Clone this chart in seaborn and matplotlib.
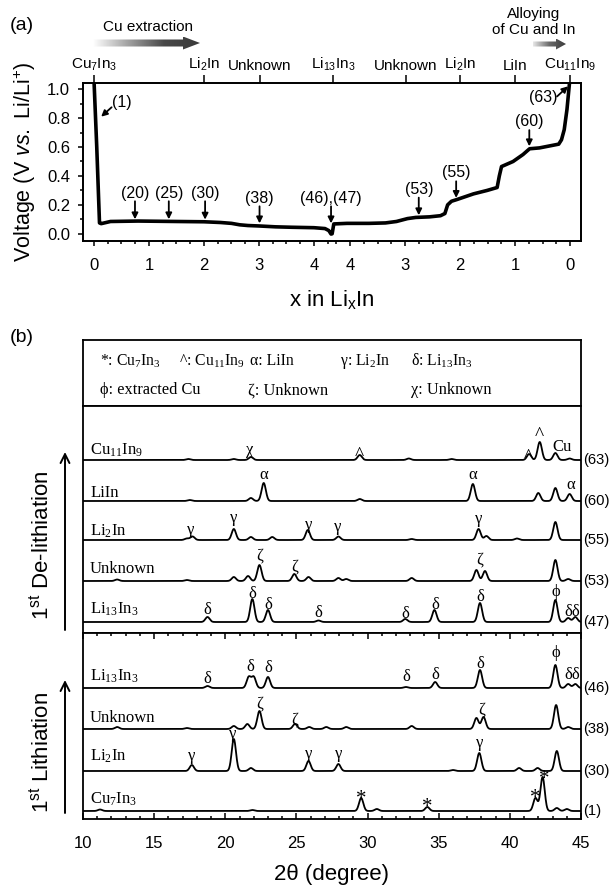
import numpy as np
import pandas as pd
import matplotlib
matplotlib.use("Agg")
import matplotlib.pyplot as plt
import seaborn as sns
from matplotlib.patches import FancyArrow
from matplotlib.colors import LinearSegmentedColormap
from matplotlib.ticker import MultipleLocator, FixedLocator

# ---------------- Panel (a): voltage profile ----------------
lith_x = [0.00, 0.05, 0.10, 0.13, 0.30, 0.80, 1.50, 2.00, 2.30, 2.50, 2.65, 2.80,
          3.00, 3.30, 3.60, 4.00, 4.20, 4.27, 4.31]
lith_V = [1.06, 0.60, 0.075, 0.070, 0.085, 0.088, 0.085, 0.083, 0.078, 0.072, 0.062, 0.057,
          0.054, 0.048, 0.045, 0.042, 0.036, 0.022, -0.002]
delith_x = [4.325, 4.295, 4.055, 3.655, 3.355, 3.155, 2.955, 2.805, 2.555, 2.355, 2.275,
            2.225, 2.155, 2.055, 1.755, 1.505, 1.325, 1.285, 1.245, 1.035, 0.855, 0.735,
            0.555, 0.205, 0.155, 0.105, 0.055, 0.005]
delith_V = [0.000, 0.068, 0.072, 0.072, 0.075, 0.085, 0.105, 0.113, 0.117, 0.125, 0.140,
            0.200, 0.225, 0.237, 0.276, 0.300, 0.320, 0.400, 0.465, 0.500, 0.548, 0.588,
            0.594, 0.620, 0.650, 0.720, 0.860, 1.060]
x_ticks = [0, 1, 2, 3, 4]
top_phase_labels = [r'Cu$_{\mathregular{7}}$In$_{\mathregular{3}}$', r'Li$_{\mathregular{2}}$In', 'Unknown',
                    r'Li$_{\mathregular{13}}$In$_{\mathregular{3}}$', 'Unknown',
                    r'Li$_{\mathregular{2}}$In', 'LiIn', r'Cu$_{\mathregular{11}}$In$_{\mathregular{9}}$']
top_phase_side = ['lith', 'lith', 'lith', 'lith', 'de', 'de', 'de', 'de']
top_phase_x = [0.0, 2.0, 3.02, 4.35, 2.99, 2.0, 1.0, 0.0]
# (label, branch, x, text V, arrow tail V, arrow tip V)
step_labels = [('(20)', 'lith', 0.745, 0.276, 0.225, 0.100),
               ('(25)', 'lith', 1.36, 0.276, 0.225, 0.100),
               ('(30)', 'lith', 2.02, 0.276, 0.225, 0.098),
               ('(38)', 'lith', 3.01, 0.244, 0.190, 0.072),
               ('(46),(47)', 'lith', 4.31, 0.244, 0.190, 0.072),
               ('(53)', 'de', 2.75, 0.306, 0.250, 0.128),
               ('(55)', 'de', 2.07, 0.425, 0.363, 0.248),
               ('(60)', 'de', 0.74, 0.780, 0.717, 0.605)]

# ---------------- Panel (b): XRD patterns, peaks (2theta, height) ----------------
delith_scans = ['(63)', '(60)', '(55)', '(53)', '(47)']
delith_phases = [r'Cu$_{\mathregular{11}}$In$_{\mathregular{9}}$', 'LiIn', r'Li$_{\mathregular{2}}$In',
                 'Unknown', r'Li$_{\mathregular{13}}$In$_{\mathregular{3}}$']
lith_scans = ['(46)', '(38)', '(30)', '(1)']
lith_phases = [r'Li$_{\mathregular{13}}$In$_{\mathregular{3}}$', 'Unknown', r'Li$_{\mathregular{2}}$In',
               r'Cu$_{\mathregular{7}}$In$_{\mathregular{3}}$']
peaks_63 = [(17.4, 1), (20.6, 1), (21.8, 3), (29.45, 5), (32.9, 1.5), (35.9, 1), (41.35, 6),
            (42.1, 18), (43.2, 7), (44.2, 1.5)]
peaks_60 = [(17.5, 1), (21.8, 3), (22.7, 18), (29.45, 2), (37.4, 17), (42.0, 8), (43.2, 13), (44.2, 7)]
peaks_55 = [(17.3, 1.5), (17.7, 3.5), (20.6, 11), (21.8, 3), (23.3, 3), (25.8, 10), (27.95, 3.5),
            (33.1, 1), (37.8, 11), (38.35, 4), (40.5, 1.5), (43.2, 18)]
peaks_53 = [(12.4, 1.5), (17.3, 1), (20.6, 4), (21.6, 5), (22.4, 16), (24.85, 7), (25.85, 4),
            (27.95, 3), (28.5, 2), (33.1, 3), (37.65, 11), (38.25, 10), (43.2, 21), (44.1, 2)]
peaks_47 = [(18.75, 5), (21.9, 23), (23.0, 12), (26.55, 1.5), (32.65, 3), (34.7, 12), (37.9, 19),
            (43.2, 22), (44.1, 4), (44.6, 5)]
peaks_46 = [(18.75, 2), (21.65, 11), (22.0, 11), (23.0, 11), (32.7, 1), (34.75, 6), (37.9, 18),
            (43.2, 23), (44.1, 4), (44.6, 4)]
peaks_38 = [(12.4, 2), (17.3, 1), (20.6, 3), (21.55, 5), (22.4, 18), (24.9, 5), (25.9, 2), (27.1, 2),
            (28.5, 2), (33.1, 3), (37.65, 11), (38.15, 12), (43.25, 24), (44.1, 2)]
peaks_30 = [(17.65, 6), (20.6, 32), (21.8, 3), (25.85, 10), (27.95, 7), (36.0, 1), (37.85, 18),
            (40.65, 3), (41.95, 3), (43.3, 20)]
peaks_1 = [(11.2, 1.5), (21.9, 1), (29.55, 13), (30.65, 2), (34.2, 4), (41.8, 13), (42.3, 34),
           (43.3, 3), (44.0, 2)]
# peak marks: (symbol, 2theta, height of mark above baseline)
marks_63 = [('χ', 21.75, 8), ('^', 29.45, 11), ('^', 41.3, 8), ('^', 42.05, 31), ('Cu', 43.65, 15)]
marks_60 = [('α', 22.7, 26), ('α', 37.4, 26), ('α', 44.3, 16)]
marks_55 = [('γ', 17.6, 8), ('γ', 20.6, 20), ('γ', 25.85, 13), ('γ', 27.9, 11), ('γ', 37.8, 19)]
marks_53 = [('ζ', 22.4, 26), ('ζ', 24.85, 15), ('ζ', 37.9, 22)]
marks_47 = [('δ', 18.75, 14), ('δ', 21.9, 30), ('δ', 23.0, 19), ('δ', 26.55, 11), ('δ', 32.65, 10),
            ('δ', 34.75, 19), ('δ', 37.95, 27), ('ϕ', 43.2, 30), ('δδ', 44.4, 12)]
marks_46 = [('δ', 18.75, 11), ('δ', 21.75, 23), ('δ', 23.0, 22), ('δ', 32.7, 13), ('δ', 34.75, 15),
            ('δ', 37.95, 26), ('ϕ', 43.25, 35), ('δδ', 44.4, 15)]
marks_38 = [('ζ', 22.4, 26), ('ζ', 24.9, 10), ('ζ', 38.05, 20)]
marks_30 = [('γ', 17.65, 13), ('γ', 20.55, 35), ('γ', 25.85, 15), ('γ', 27.95, 15), ('γ', 37.85, 26)]
marks_1 = [('*', 29.55, 18), ('*', 34.2, 10), ('*', 41.75, 19), ('*', 42.4, 38)]
legend_row1 = [('*', r'Cu$_{\mathregular{7}}$In$_{\mathregular{3}}$'), ('^', r'Cu$_{\mathregular{11}}$In$_{\mathregular{9}}$'),
               ('α', 'LiIn'), ('γ', r'Li$_{\mathregular{2}}$In'), ('δ', r'Li$_{\mathregular{13}}$In$_{\mathregular{3}}$')]
legend_row2 = [('ϕ', 'extracted Cu'), ('ζ', 'Unknown'), ('χ', 'Unknown')]

# ---------------- style ----------------
sns.set_theme(style='ticks', rc={'axes.edgecolor': 'black', 'xtick.color': 'black', 'ytick.color': 'black',
                                 'text.color': 'black', 'axes.labelcolor': 'black', 'axes.linewidth': 1.2})
plt.rcParams['font.family'] = ['Liberation Sans', 'DejaVu Sans']
plt.rcParams['mathtext.fontset'] = 'custom'
plt.rcParams['mathtext.rm'] = 'Liberation Sans'
plt.rcParams['mathtext.it'] = 'Liberation Sans:italic'
plt.rcParams['mathtext.bf'] = 'Liberation Sans:bold'
SERIF = ['Liberation Serif', 'DejaVu Serif']

W, H = 611, 886
fig = plt.figure(figsize=(W / 100, H / 100), dpi=100)


def ax_px(l, t, r, b):
    return fig.add_axes([l / W, 1 - b / H, (r - l) / W, (b - t) / H])


L, R = 83, 581
TURN = 8.655  # position of x = 0 on the de-lithiation branch

# ---------------- panel (a) ----------------
axa = ax_px(L, 82.7, R, 241)
u = np.r_[np.array(lith_x), TURN - np.array(delith_x)]
dfa = pd.DataFrame({'u': u, 'V': np.r_[lith_V, delith_V]})
sns.lineplot(data=dfa, x='u', y='V', ax=axa, color='black', lw=2.6, sort=False, estimator=None)
axa.set_xlim(-0.2, 8.855)
axa.set_ylim(-0.05, 1.045)
for s in axa.spines.values():
    s.set_linewidth(1.3)
bt = list(x_ticks) + [TURN - v for v in x_ticks[::-1]]
axa.set_xticks(bt)
axa.set_xticklabels([str(v) for v in x_ticks] + [str(v) for v in x_ticks[::-1]])
minors = [v for v in np.arange(0, 4.3, 0.25) if v % 1] + [TURN - v for v in np.arange(0, 4.3, 0.25) if v % 1]
axa.xaxis.set_minor_locator(FixedLocator(minors))
axa.set_yticks(np.arange(0, 1.01, 0.2))
axa.set_yticklabels([f'{v:.1f}' for v in np.arange(0, 1.01, 0.2)])
axa.yaxis.set_minor_locator(MultipleLocator(0.1))
axa.tick_params(which='both', direction='out', labelsize=12, width=1.1)
axa.tick_params(axis='x', which='major', length=3.6, pad=8.6)
axa.tick_params(axis='x', which='minor', length=2.2)
axa.tick_params(axis='y', which='major', length=3.6, pad=5.6)
axa.tick_params(axis='y', which='minor', length=2.2)
axa.set_xlabel(r'x in Li$_{\mathregular{x}}$In', fontsize=16)
axa.xaxis.set_label_coords(0.5, -0.30)
axa.set_ylabel(r'Voltage (V $\mathit{vs.}$ Li/Li$^{\mathregular{+}}$)', fontsize=15.5)
axa.yaxis.set_label_coords(-0.09, 0.5)

axt = axa.twiny()
axt.set_xlim(axa.get_xlim())
axt.set_xticks([x if sd == 'lith' else TURN - x for x, sd in zip(top_phase_x, top_phase_side)])
axt.set_xticklabels(top_phase_labels)
axt.tick_params(axis='x', direction='out', length=5.8, width=1.1, labelsize=11, pad=1.5)
axt.xaxis.set_minor_locator(FixedLocator([]))
axt.set_xlabel('')

arrow_kw = dict(arrowstyle='-|>', color='black', lw=1.3, mutation_scale=9, shrinkA=0, shrinkB=0)
for lab, br, xv, tv, tail, tip in step_labels:
    uu = xv if br == 'lith' else TURN - xv
    axa.text(uu, tv, lab, ha='center', va='center', fontsize=11.5)
    axa.annotate('', xy=(uu, tip), xytext=(uu, tail), arrowprops=arrow_kw)
axa.text(0.51, 0.905, '(1)', ha='center', va='center', fontsize=11.5)
axa.annotate('', xy=(0.13, 0.81), xytext=(0.32, 0.875), arrowprops=arrow_kw)
axa.text(8.17, 0.94, '(63)', ha='center', va='center', fontsize=11.5)
axa.annotate('', xy=(8.62, 1.02), xytext=(8.42, 0.95), arrowprops=arrow_kw)

# ---------------- panel (b) ----------------
axl = ax_px(L, 340, R, 406)
axu = ax_px(L, 406, R, 633)
axd = ax_px(L, 633, R, 819)
for a in (axl, axu, axd):
    for s in a.spines.values():
        s.set_linewidth(1.3)
axl.set_xticks([]); axl.set_yticks([])

grid = np.linspace(10, 45, 1751)


def pattern(peaks, sigma=0.15):
    y = np.zeros_like(grid)
    for p, h in peaks:
        y = y + h * np.exp(-0.5 * ((grid - p) / sigma) ** 2)
    return y


# glyph size and vertical centre of the visible glyph above its baseline (px)
glyph_size = {'*': 15, '^': 14}
glyph_mid = {'α': 3.8, 'γ': 2.0, 'χ': 2.0, 'δ': 5.8, 'δδ': 5.8, 'ζ': 4.0, 'ϕ': 4.0, '*': 10.6, '^': 10.5, 'Cu': 5.6}


def draw_group(ax, scans, phases, peak_sets, mark_sets, offsets, name_offs, top):
    rows = []
    for sc, pk, off in zip(scans, peak_sets, offsets):
        rows.append(pd.DataFrame({'two_theta': grid, 'y': pattern(pk) + off, 'scan': sc}))
    df = pd.concat(rows, ignore_index=True)
    sns.lineplot(data=df, x='two_theta', y='y', units='scan', estimator=None, color='black',
                 lw=1.3, ax=ax, sort=False)
    ax.set_xlim(10, 45)
    ax.set_ylim(0, top)
    ax.set_xlabel(''); ax.set_ylabel('')
    for sc, ph, mk, off, no in zip(scans, phases, mark_sets, offsets, name_offs):
        ax.text(10.5, off + no, ph, ha='left', va='baseline', fontsize=12, family=SERIF)
        ax.text(45.12, off, sc, ha='left', va='center', fontsize=10.6, clip_on=False)
        for g, tt, hh in mk:
            ax.text(tt, off + hh - glyph_mid[g], g, ha='center', va='baseline',
                    fontsize=glyph_size.get(g, 12), family=SERIF)


draw_group(axu, delith_scans, delith_phases, [peaks_63, peaks_60, peaks_55, peaks_53, peaks_47],
           [marks_63, marks_60, marks_55, marks_53, marks_47], [173, 132, 93, 52, 11], [6, 4, 5, 8, 9], 227)
draw_group(axd, lith_scans, lith_phases, [peaks_46, peaks_38, peaks_30, peaks_1],
           [marks_46, marks_38, marks_30, marks_1], [131, 90, 48, 8], [8, 7, 11, 8], 186)
axu.tick_params(which='both', bottom=False, top=False, left=False, right=False,
                labelbottom=False, labelleft=False)
axd.xaxis.set_major_locator(MultipleLocator(5))
axd.xaxis.set_minor_locator(MultipleLocator(1))
axd.tick_params(which='both', direction='in', top=True, bottom=True, left=False, right=False,
                labelleft=False, labelsize=12, width=1.1, pad=12.2)
axd.tick_params(which='major', length=4.3)
axd.tick_params(which='minor', length=2.5)
axd.set_xlabel('2θ (degree)', fontsize=16)
axd.xaxis.set_label_coords(0.5, -0.242)

# ---------------- overlay (free text and decorations, pixel coords) ----------------
ov = fig.add_axes([0, 0, 1, 1], zorder=10)
ov.patch.set_alpha(0)


def grad_arrow(x0, x1, y, body, headw, headl, colors):
    arr = FancyArrow(x0, y, x1 - x0, 0, width=body, head_width=headw, head_length=headl,
                     length_includes_head=True, fc='none', ec='none')
    ov.add_patch(arr)
    cmap = LinearSegmentedColormap.from_list('g', colors)
    im = ov.imshow(np.linspace(0, 1, 256)[None, :], extent=[x0, x1, y + headw / 2, y - headw / 2],
                   cmap=cmap, aspect='auto', interpolation='bilinear')
    im.set_clip_path(arr)


grad_arrow(93, 200, 43, 7, 13, 17, ['#ffffff', '#a0a0a0', '#484848', '#3a3a3a'])
grad_arrow(533, 566, 44, 5, 11, 10, ['#e8e8e8', '#6a6a6a', '#3a3a3a'])
ov.set_xlim(0, W); ov.set_ylim(H, 0); ov.axis('off')

ov.text(22, 25, '(a)', ha='center', va='center', fontsize=14)
ov.text(148, 27, 'Cu extraction', ha='center', va='center', fontsize=11)
ov.text(534, 22, 'Alloying\nof Cu and In', ha='center', va='center', fontsize=11,
        multialignment='center', linespacing=1.15)
ov.text(22, 338, '(b)', ha='center', va='center', fontsize=14)

leg_x1 = [100, 179, 250, 340, 411]
leg_x2 = [100, 248, 411]
for (sym, txt), xx in zip(legend_row1, leg_x1):
    ov.text(xx, 365, f'{sym}: ' + txt, ha='left', va='baseline', fontsize=11.3, family=SERIF)
for (sym, txt), xx in zip(legend_row2, leg_x2):
    ov.text(xx, 394, f'{sym}: ' + txt, ha='left', va='baseline', fontsize=11.8, family=SERIF)

ov.text(42, 545, r'1$^{\mathregular{st}}$ De-lithiation', rotation=90, ha='center', va='center', fontsize=16)
ov.text(42, 752, r'1$^{\mathregular{st}}$ Lithiation', rotation=90, ha='center', va='center', fontsize=16)
up_kw = dict(arrowstyle='->', color='black', lw=1.4, mutation_scale=16, shrinkA=0, shrinkB=0)
ov.annotate('', xy=(65, 452), xytext=(65, 630), arrowprops=up_kw)
ov.annotate('', xy=(65, 680), xytext=(65, 813), arrowprops=up_kw)

fig.savefig('out.png', dpi=100)
